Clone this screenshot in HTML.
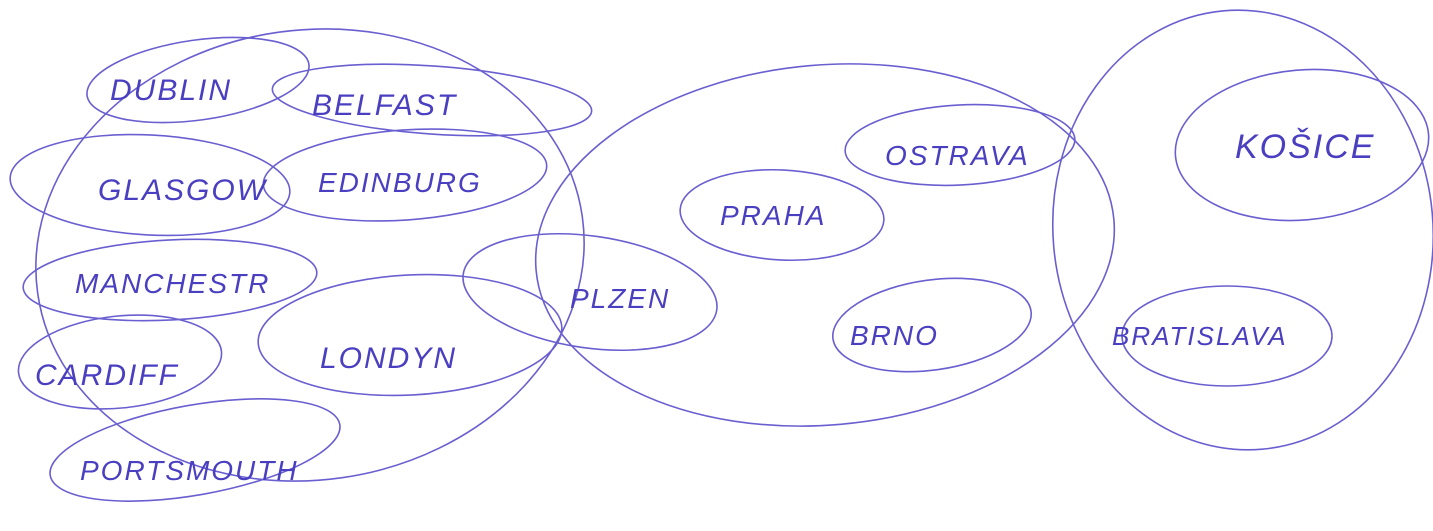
<!DOCTYPE html>
<html><head><meta charset="utf-8"><style>
html,body{margin:0;padding:0;background:#fff;width:1433px;height:531px;overflow:hidden}
svg text{font-family:"Liberation Sans",sans-serif;fill:#4a3fc0;font-style:italic;letter-spacing:2px}
</style></head><body>
<svg width="1433" height="531" viewBox="0 0 1433 531" xmlns="http://www.w3.org/2000/svg">
<g fill="none" stroke="#6a5fd0" stroke-width="1.6">
<ellipse cx="310" cy="255" rx="275" ry="225" transform="rotate(-8 310 255)"/>
<ellipse cx="198" cy="80" rx="112" ry="40" transform="rotate(-8 198 80)"/>
<ellipse cx="432" cy="100" rx="160" ry="34" transform="rotate(4 432 100)"/>
<ellipse cx="150" cy="185" rx="140" ry="50" transform="rotate(3 150 185)"/>
<ellipse cx="405" cy="175" rx="142" ry="45" transform="rotate(-4 405 175)"/>
<ellipse cx="170" cy="280" rx="147" ry="40" transform="rotate(-3 170 280)"/>
<ellipse cx="120" cy="362" rx="102" ry="46" transform="rotate(-6 120 362)"/>
<ellipse cx="410" cy="335" rx="152" ry="60" transform="rotate(-3 410 335)"/>
<ellipse cx="195" cy="450" rx="147" ry="45" transform="rotate(-10 195 450)"/>
<ellipse cx="825" cy="245" rx="290" ry="180" transform="rotate(-5 825 245)"/>
<ellipse cx="590" cy="292" rx="128" ry="56" transform="rotate(8 590 292)"/>
<ellipse cx="782" cy="215" rx="102" ry="45" transform="rotate(3 782 215)"/>
<ellipse cx="960" cy="145" rx="115" ry="40" transform="rotate(-3 960 145)"/>
<ellipse cx="932" cy="325" rx="100" ry="45" transform="rotate(-8 932 325)"/>
<ellipse cx="1243" cy="230" rx="190" ry="220" transform="rotate(-5 1243 230)"/>
<ellipse cx="1302" cy="145" rx="127" ry="75" transform="rotate(-5 1302 145)"/>
<ellipse cx="1227" cy="336" rx="105" ry="50"/>
</g>
<text x="110" y="100" font-size="30">DUBLIN</text>
<text x="312" y="115" font-size="30">BELFAST</text>
<text x="98" y="200" font-size="30">GLASGOW</text>
<text x="318" y="192" font-size="28">EDINBURG</text>
<text x="75" y="293" font-size="28">MANCHESTR</text>
<text x="35" y="385" font-size="30">CARDIFF</text>
<text x="320" y="368" font-size="30">LONDYN</text>
<text x="80" y="480" font-size="28">PORTSMOUTH</text>
<text x="570" y="308" font-size="28">PLZEN</text>
<text x="720" y="225" font-size="28">PRAHA</text>
<text x="885" y="165" font-size="28">OSTRAVA</text>
<text x="850" y="345" font-size="28">BRNO</text>
<text x="1235" y="158" font-size="34">KOŠICE</text>
<text x="1112" y="345" font-size="26">BRATISLAVA</text>
</svg>
</body></html>
